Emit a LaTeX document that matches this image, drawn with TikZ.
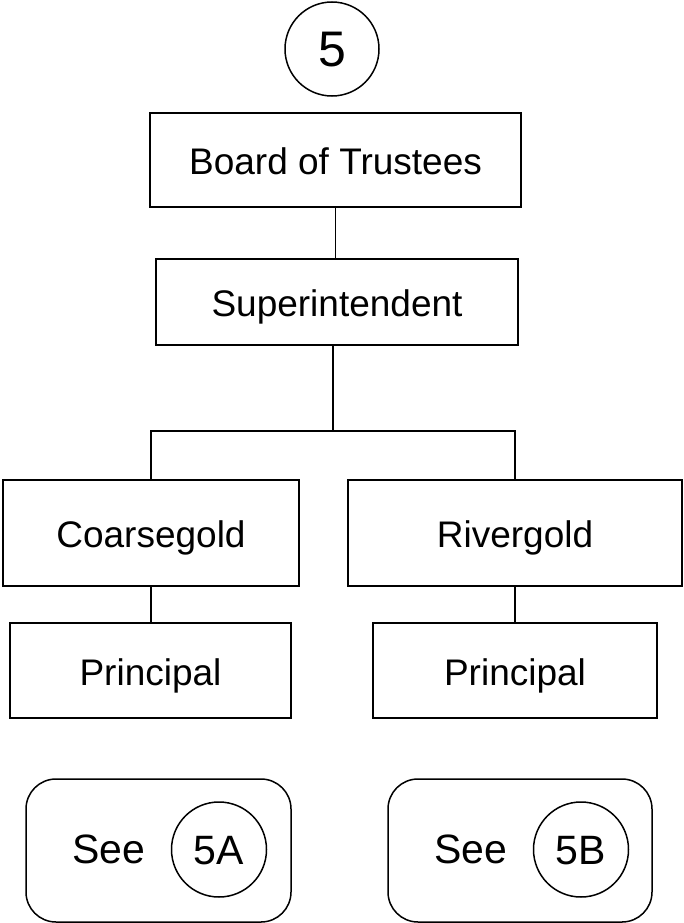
\documentclass[tikz,border=0pt]{standalone}
\usepackage{fontspec}
\setmainfont{Liberation Sans}
\begin{document}
\begin{tikzpicture}[x=1pt, y=-1pt, line width=1.5pt,
    box/.style={draw, rectangle, inner sep=0pt, font=\fontsize{37}{42}\selectfont, text height=29pt, text depth=0pt},
    seebox/.style={draw, rectangle, rounded corners=30pt, minimum width=265pt, minimum height=143pt},
    ref/.style={draw, circle, inner sep=0pt, minimum size=95pt, font=\fontsize{41}{46}\selectfont, text height=29pt, text depth=0pt}]
  \useasboundingbox (0,0) rectangle (683,923);

  \node[ref, minimum size=94pt, font=\fontsize{50}{56}\selectfont, text height=36pt] (chart) at (332,49) {5};

  \node[box, minimum width=371pt, minimum height=94pt]  (board)  at (335.5,160) {Board of Trustees};
  \node[box, minimum width=362pt, minimum height=86pt]  (supt)   at (337,302)   {Superintendent};
  \node[box, minimum width=296pt, minimum height=106pt] (coarse) at (151,533)   {Coarsegold};
  \node[box, minimum width=334pt, minimum height=106pt] (river)  at (515,533)   {Rivergold};
  \node[box, minimum width=281pt, minimum height=95pt]  (prinA)  at (150.5,670.5) {Principal};
  \node[box, minimum width=284pt, minimum height=95pt]  (prinB)  at (515,670.5)   {Principal};

  \node[seebox] (noteA) at (158.5,850.5) {};
  \node[seebox, minimum width=264pt] (noteB) at (520,850.5) {};
  \node[font=\fontsize{41}{46}\selectfont, text height=29pt, text depth=0pt] (seeA) at (109,849) {See};
  \node[font=\fontsize{41}{46}\selectfont, text height=29pt, text depth=0pt] (seeB) at (471,849) {See};
  \node[ref] (refA) at (219,849.5) {5A};
  \node[ref] (refB) at (581,849.5) {5B};

  \coordinate (fork) at (333,431);
  \draw (board.south) -- (board.south |- supt.north);
  \draw (supt.south -| fork) -- (fork);
  \draw (coarse.north) |- (fork) -| (river.north);
  \draw (coarse.south) -- (coarse.south |- prinA.north);
  \draw (river.south) -- (river.south |- prinB.north);
\end{tikzpicture}
\end{document}
